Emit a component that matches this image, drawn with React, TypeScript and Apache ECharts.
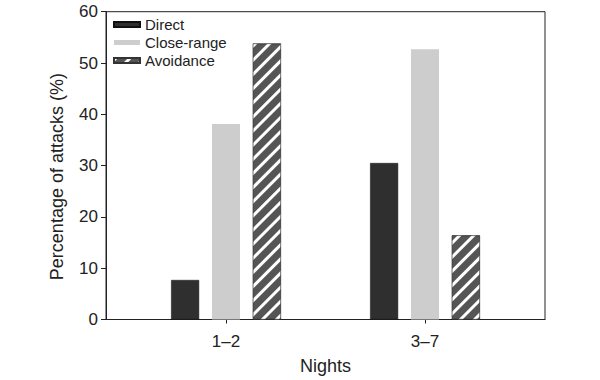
import React, { useEffect, useRef } from "react";
import * as echarts from "echarts";

const categories = ["1–2", "3–7"];
const seriesNames = ["Direct", "Close-range", "Avoidance"];
const directValues = [7.7, 30.5];
const closeRangeValues = [38.1, 52.7];
const avoidanceValues = [53.8, 16.4];
const yTicks = [0, 10, 20, 30, 40, 50, 60];

const FONT = "Liberation Sans, Arial, Helvetica, sans-serif";

export default function App() {
  const ref = useRef<HTMLDivElement>(null);
  useEffect(() => {
    if (!ref.current) return;
    const chart = echarts.init(ref.current, null, { renderer: "svg" });
    const toPairs = (vals: number[]) => vals.map((v, i) => [i, v]);
    const common = {
      type: "bar" as const,
      barWidth: 28,
      barGap: "46%",
    };
    chart.setOption({
      animation: false,
      backgroundColor: "#ffffff",
      textStyle: { fontFamily: FONT, color: "#222" },
      grid: {
        left: 106,
        right: 55,
        top: 11.7,
        bottom: 60.5,
        outerBoundsMode: "none",
        containLabel: false,
        show: true,
        borderColor: "#222",
        borderWidth: 1,
        backgroundColor: "transparent",
      },
      legend: {
        orient: "vertical",
        left: 108,
        top: 12,
        itemWidth: 26,
        itemHeight: 5,
        itemGap: 3,
        icon: "rect",
        data: seriesNames,
        textStyle: { fontSize: 15, color: "#222", fontFamily: FONT },
      },
      xAxis: {
        type: "value",
        min: -0.603,
        max: 1.603,
        name: "Nights",
        nameLocation: "middle",
        nameGap: 37,
        nameTextStyle: { fontSize: 18, color: "#222", fontFamily: FONT },
        splitLine: { show: false },
        axisLine: { show: true, onZero: false, lineStyle: { color: "#222", width: 1 } },
        axisTick: {
          show: true,
          length: 4,
          customValues: [0, 1],
          lineStyle: { color: "#222" },
        },
        axisLabel: {
          customValues: [0, 1],
          formatter: (v: number) => categories[Math.round(v)] ?? "",
          fontSize: 17,
          color: "#222",
          margin: 13,
          fontFamily: FONT,
        },
      },
      yAxis: {
        type: "value",
        min: 0,
        max: 60,
        interval: 10,
        name: "Percentage of attacks (%)",
        nameLocation: "middle",
        nameGap: 40,
        nameTextStyle: {
          fontSize: 18,
          color: "#222",
          fontFamily: FONT,
          padding: [0, 22, 0, 0],
        },
        splitLine: { show: false },
        axisLine: { show: true, onZero: false, lineStyle: { color: "#222", width: 1 } },
        axisTick: { show: true, length: 5, lineStyle: { color: "#222" } },
        axisLabel: {
          fontSize: 17,
          color: "#222",
          margin: 8,
          fontFamily: FONT,
          customValues: yTicks,
        },
      },
      series: [
        {
          ...common,
          name: seriesNames[0],
          data: toPairs(directValues),
          itemStyle: { color: "#2f2f2f", borderColor: "#111", borderWidth: 0.5 },
        },
        {
          ...common,
          name: seriesNames[1],
          data: toPairs(closeRangeValues),
          itemStyle: { color: "#cdcdcd" },
        },
        {
          ...common,
          name: seriesNames[2],
          data: toPairs(avoidanceValues),
          itemStyle: {
            color: "#555555",
            borderColor: "#333",
            borderWidth: 0.5,
            decal: {
              symbol: "rect",
              symbolSize: 1,
              color: "#ffffff",
              dashArrayX: [1, 0],
              dashArrayY: [3, 6.5],
              rotation: -Math.PI / 4,
            },
          },
        },
      ],
    });
    return () => chart.dispose();
  }, []);
  return (
    <div
      ref={ref}
      style={{ position: "fixed", left: 0, top: 0, width: 600, height: 380 }}
    />
  );
}
